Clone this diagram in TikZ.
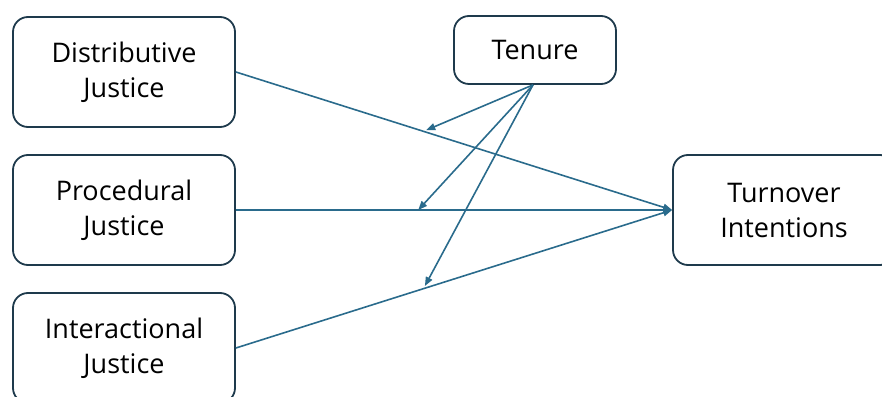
\documentclass[tikz,border=0pt]{standalone}
\usepackage{fontspec}
\setmainfont{Open Sans}
\usetikzlibrary{arrows.meta}
\definecolor{boxline}{HTML}{1E3A4C}
\definecolor{arrowc}{HTML}{2A6B8C}
\begin{document}
\begin{tikzpicture}[x=1pt,y=1pt,
  box/.style={draw=boxline,line width=1.8pt,rounded corners=15pt,fill=white,
    align=center,font=\fontsize{27}{35}\selectfont,inner sep=0pt},
  conn/.style={draw=arrowc,line width=1.6pt,-{Triangle[length=9pt,width=7pt]}}]
\useasboundingbox (0,0) rectangle (882,396);
\node[box,minimum width=222pt,minimum height=110pt] (dj) at (124,324) {Distributive\\Justice};
\node[box,minimum width=222pt,minimum height=110pt] (pj) at (124,186) {Procedural\\Justice};
\node[box,minimum width=222pt,minimum height=110pt] (ij) at (124,48) {Interactional\\Justice};
\node[box,minimum width=162pt,minimum height=68pt] (ten) at (535,346) {Tenure};
\node[box,minimum width=222pt,minimum height=110pt] (to) at (784,186) {Turnover\\Intentions};
\coordinate (tb) at ([xshift=-2pt]ten.south);
\draw[conn] (dj.east) -- (to.west) coordinate[pos=0.43] (m1);
\draw[conn] (pj.east) -- (to.west) coordinate[pos=0.418] (m2);
\draw[conn] (ij.east) -- (to.west) coordinate[pos=0.43] (m3);
\draw[conn,shorten >=3pt] (tb) -- (m1);
\draw[conn] (tb) -- (m2);
\draw[conn,shorten >=3pt] (tb) -- (m3);
\end{tikzpicture}
\end{document}
